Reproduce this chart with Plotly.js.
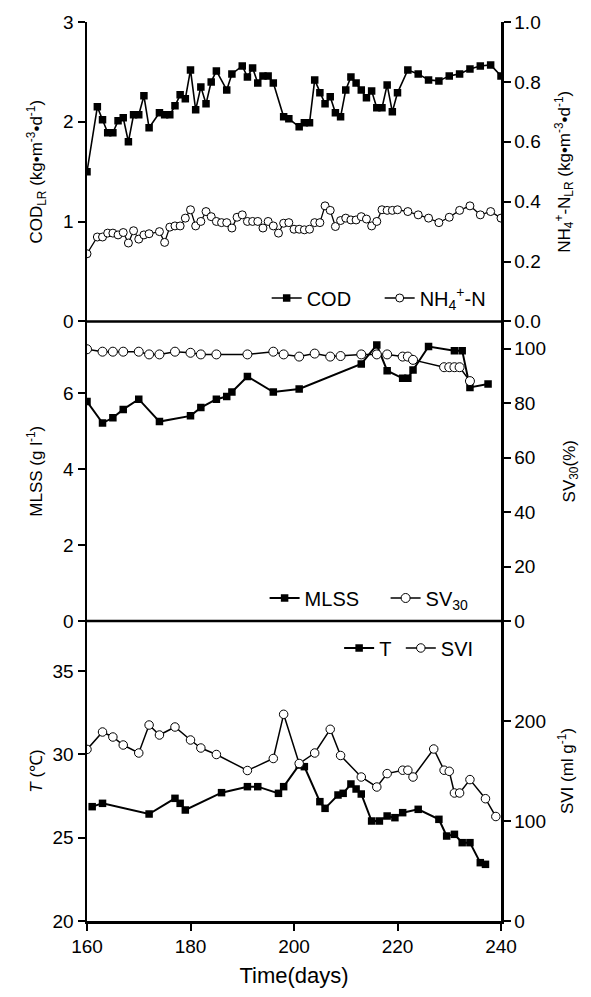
<!DOCTYPE html>
<html><head><meta charset="utf-8">
<script src="https://cdn.plot.ly/plotly-3.0.1.min.js"></script>
<style>body{margin:0;background:#fff}</style>
</head><body><div id="chart" style="width:591px;height:997px"></div>
<script>
// ---- data ----
const codDays = [160,162,163,164,165,166,167,168,169,170,171,172,174,175,176,177,178,179,180,181,182,183,184,185,187,188,190,191,192,193,194,195,196,198,199,201,202,203,204,205,206,207,208,209,210,211,212,213,214,215,216,217,218,219,220,222,224,226,228,230,232,234,236,238,240];
const codVals = [1.50,2.15,2.02,1.89,1.89,2.01,2.04,1.80,2.07,2.07,2.26,1.94,2.09,2.07,2.07,2.16,2.27,2.23,2.52,2.12,2.35,2.18,2.40,2.51,2.32,2.48,2.56,2.45,2.54,2.39,2.46,2.46,2.39,2.05,2.03,1.95,1.99,1.99,2.42,2.29,2.18,2.25,2.09,2.05,2.32,2.45,2.39,2.32,2.24,2.31,2.14,2.14,2.37,2.10,2.29,2.52,2.48,2.42,2.41,2.46,2.48,2.53,2.56,2.57,2.46];
const nhDays = [160,162,163,164,165,166,167,168,169,170,171,172,174,175,176,177,178,179,180,181,182,183,184,185,186,187,188,189,190,191,192,193,194,195,196,197,198,199,200,201,202,203,204,205,206,207,208,209,210,211,212,213,214,215,216,217,218,219,220,222,224,226,228,230,232,234,236,238,240];
const nhVals = [0.226,0.282,0.282,0.295,0.295,0.289,0.297,0.262,0.303,0.275,0.289,0.293,0.300,0.264,0.315,0.319,0.319,0.345,0.373,0.319,0.334,0.367,0.350,0.334,0.330,0.330,0.312,0.348,0.356,0.334,0.334,0.334,0.312,0.334,0.319,0.295,0.328,0.330,0.308,0.308,0.306,0.308,0.330,0.330,0.386,0.371,0.317,0.337,0.345,0.339,0.339,0.350,0.342,0.319,0.334,0.373,0.371,0.371,0.373,0.367,0.356,0.345,0.330,0.348,0.371,0.386,0.356,0.367,0.345];

const mlssDays = [160,163,165,167,170,174,180,182,185,187,188,191,196,201,213,216,218,221,222,223,226,231,232.5,234,237.5];
const mlssVals = [5.79,5.22,5.36,5.58,5.85,5.26,5.41,5.63,5.85,5.92,6.04,6.45,6.04,6.12,6.78,7.28,6.60,6.40,6.40,6.62,7.24,7.13,7.13,6.16,6.25];
const svDays = [160,163,165,167,170,172,174,177,180,182,185,191,196,198,201,204,207,209,213,216,218,221,222,223,229,230,231,232,234];
const svVals = [99.8,98.9,98.9,98.9,98.9,97.9,97.9,98.9,98.5,97.9,97.9,97.9,98.9,97.9,97.1,98.2,97.1,97.3,97.9,97.9,97.9,97.1,97.1,95.9,93.2,93.2,93.2,93.2,88.1];

const tDays = [161,163,172,177,178,179,186,191,193,197,198,201,202,205,206,208.5,209.5,211,212,213,215,216.5,218,219.5,221,224,228,229.5,231,232.5,234,236,237];
const tVals = [26.86,27.06,26.42,27.36,27.06,26.66,27.70,28.06,28.06,27.66,28.06,29.36,29.26,27.16,26.76,27.56,27.66,28.22,27.92,27.62,26.0,26.0,26.3,26.2,26.5,26.7,26.1,25.1,25.2,24.7,24.7,23.5,23.4];
const sviDays = [160,163,165,167,170,172,174,177,180,182,185,191,196,198,201,204,207,209,213,216,218,221,222,223,227,229,230,231,232,234,237,239];
const sviVals = [171.6,189,184,176,168,196,186,194,181,173,166.5,150.5,162.5,206.7,157.5,168,191.7,165.5,144,134,147.4,150.8,150.8,144,172,150.8,149.7,128,128,141.4,122.3,104.5];

const xTicks = [160,180,200,220,240];

// ---- styles ----
const FONT = 'Liberation Sans, Arial, sans-serif';
const sq = (s) => ({symbol:'square', size:s, color:'#000', line:{width:0}});
const oc = (s) => ({symbol:'circle', size:s, color:'#fff', line:{width:1, color:'#000'}});

const traces = [
  {x:codDays, y:codVals, xaxis:'x', yaxis:'y5', mode:'lines+markers', name:'COD', line:{color:'#000', width:1.6}, marker:sq(7.5), legend:'legend'},
  {x:nhDays, y:nhVals, xaxis:'x', yaxis:'y6', mode:'lines+markers', name:'NH<sub>4</sub><sup>+</sup>-N', line:{color:'#000', width:1.3}, marker:oc(8), legend:'legend'},
  {x:mlssDays, y:mlssVals, xaxis:'x', yaxis:'y3', mode:'lines+markers', name:'MLSS', line:{color:'#000', width:2}, marker:sq(7.5), legend:'legend2'},
  {x:svDays, y:svVals, xaxis:'x', yaxis:'y4', mode:'lines+markers', name:'SV<sub>30</sub>', line:{color:'#000', width:1.5}, marker:oc(9), legend:'legend2'},
  {x:tDays, y:tVals, xaxis:'x', yaxis:'y', mode:'lines+markers', name:'T', line:{color:'#000', width:2}, marker:sq(7.5), legend:'legend3'},
  {x:sviDays, y:sviVals, xaxis:'x', yaxis:'y2', mode:'lines+markers', name:'SVI', line:{color:'#000', width:1.5}, marker:oc(8.5), legend:'legend4'}
];

const ax = {showline:true, linecolor:'#000', linewidth:2.5, ticks:'outside', ticklen:7, tickwidth:2, tickcolor:'#000',
  showgrid:false, zeroline:false, tickfont:{size:19, family:FONT, color:'#000'}};
const tfont = {size:17, family:FONT, color:'#000'};
const D1 = 0.3337, D2 = 0.6669;

const lg = (x, y, w) => {
  const o = {orientation:'h', x:x, y:y, xanchor:'left', yanchor:'middle', bgcolor:'rgba(0,0,0,0)',
    font:{size:20, family:FONT, color:'#000'}, itemwidth:30, tracegroupgap:0};
  if (w) { o.entrywidth = w; o.entrywidthmode = 'pixels'; }
  return o;
};

const layout = {
  width:591, height:997, margin:{l:87, r:90, t:22, b:76},
  paper_bgcolor:'#fff', plot_bgcolor:'#fff', showlegend:true,
  font:{family:FONT, color:'#000'},
  xaxis: Object.assign({}, ax, {domain:[0,1], range:[160,240], anchor:'y', tickvals:xTicks,
    title:{text:'Time(days)', font:{size:22, family:FONT, color:'#000'}, standoff:12}}),
  yaxis: Object.assign({}, ax, {domain:[0,D1], range:[20,38], anchor:'x', tickvals:[20,25,30,35],
    title:{text:'<i>T</i> (℃)', font:tfont, standoff:6}}),
  yaxis2: Object.assign({}, ax, {overlaying:'y', side:'right', anchor:'x', range:[0,300], tickvals:[0,100,200],
    title:{text:'SVI (ml g<sup>-1</sup>)', font:tfont, standoff:16}}),
  yaxis3: Object.assign({}, ax, {domain:[D1,D2], range:[0,7.9], anchor:'x', tickvals:[0,2,4,6],
    title:{text:'MLSS (g l<sup>-1</sup>)', font:tfont, standoff:16}}),
  yaxis4: Object.assign({}, ax, {overlaying:'y3', side:'right', anchor:'x', range:[0,110], tickvals:[0,20,40,60,80,100],
    title:{text:'SV<sub>30</sub>(%)', font:tfont, standoff:18}}),
  yaxis5: Object.assign({}, ax, {domain:[D2,1], range:[0,3], anchor:'x', tickvals:[0,1,2,3],
    title:{text:'COD<sub>LR</sub> (kg•m<sup>-3</sup>•d<sup>-1</sup>)', font:tfont, standoff:16}}),
  yaxis6: Object.assign({}, ax, {overlaying:'y5', side:'right', anchor:'x', range:[0,1], tickvals:[0,0.2,0.4,0.6,0.8,1.0], tickformat:'.1f',
    title:{text:'NH<sub>4</sub><sup>+</sup>-N<sub>LR</sub> (kg•m<sup>-3</sup>•d<sup>-1</sup>)', font:tfont, standoff:18}}),
  legend: lg(0.434, 0.693, 68),
  legend2: lg(0.429, 0.3593, 76),
  legend3: lg(0.609, 0.3037),
  legend4: lg(0.758, 0.3037),
  shapes: [
    {type:'line', xref:'paper', yref:'paper', x0:0, x1:1, y0:D1, y1:D1, line:{color:'#000', width:2.5}},
    {type:'line', xref:'paper', yref:'paper', x0:0, x1:1, y0:D2, y1:D2, line:{color:'#000', width:2.5}}
  ]
};

Plotly.newPlot('chart', traces, layout, {displayModeBar:false, staticPlot:true});
</script></body></html>
